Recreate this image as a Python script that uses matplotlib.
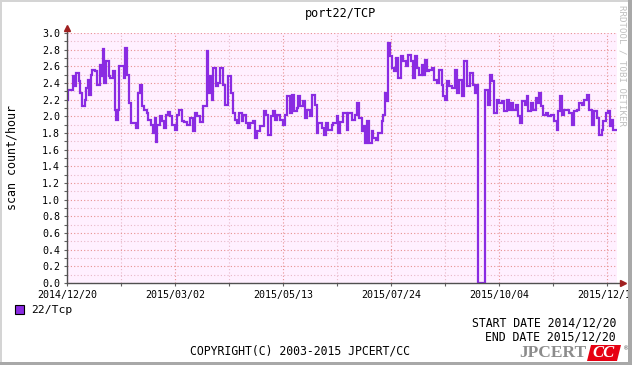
import matplotlib
matplotlib.use('Agg')
import matplotlib.pyplot as plt
from matplotlib.patches import Rectangle, Polygon
import numpy as np

# data: step start (days since 2014/12/20) and scan count/hour
days = [0, 1, 4, 5, 6, 8, 9, 10, 12, 13, 14, 15, 16, 17, 19, 20, 22, 23, 24, 25,
        26, 28, 29, 31, 32, 33, 34, 35, 38, 39, 40, 41.5, 43, 46, 47.5, 48.5, 50,
        51.3, 53.1, 54.2, 55.8, 57.1, 58.7, 59.3, 60.2, 62, 63.1, 64.7, 66, 67.6,
        68.7, 69.8, 72, 73.1, 74.9, 76.4, 78, 79.8, 82, 83.8, 85.3, 86.9, 88.7, 91,
        93.1, 94.2, 95.3, 96.6, 97.6, 99.3, 100.9, 102, 103.8, 105.3, 107.6, 109.1,
        110.4, 112, 113.6, 114.9, 116.4, 117.6, 119.3, 120.9, 122, 124.2, 125.3,
        126.9, 128.7, 131.3, 132.7, 134.2, 135.8, 137.1, 138.7, 140.2, 142, 143.8,
        145.3, 146.9, 148.7, 149.8, 151.3, 153.1, 154.2, 155.3, 157.1, 158.9, 160.2,
        162, 163.1, 165.3, 166.4, 167.6, 169.8, 171.3, 172.7, 174.2, 176.4, 177.6,
        179.8, 180.9, 182, 184.2, 186.4, 187.6, 189.8, 192, 193.1, 194.9, 196.4,
        197.6, 198.7, 199.8, 201.6, 203.1, 204.2, 206, 207.6, 209.8, 210.9, 212,
        213.1, 214.2, 215.3, 216.4, 218, 219.3, 220.9, 222.7, 224.2, 226, 227.6,
        229.1, 230.4, 232, 233.1, 234.9, 236.4, 237.6, 238.7, 239.8, 241.6, 243.1,
        244.7, 246.4, 248.2, 249.8, 250.9, 252, 253.1, 254.9, 256.4, 258.7, 259.8,
        261.6, 263.1, 264.7, 266.9, 268.7, 270.4, 272, 273.1, 274.2, 278.7, 280.9,
        282, 283.6, 284.9, 286.4, 288, 289.8, 291.6, 293.1, 294.7, 296, 297.6, 299.1,
        300.4, 302, 303.6, 305.3, 306.7, 307.6, 309.3, 310.9, 312.4, 313.8, 314.7,
        316, 317.6, 319.1, 320.9, 322.7, 324.9, 326.4, 327.6, 328.7, 330.2, 331.6,
        334.7, 336.4, 338.2, 339.8, 341.3, 343.1, 344.9, 346.4, 348, 349.8, 351.6,
        353.1, 354.7, 356.4, 357.6, 359.1, 360.4, 362, 363.1, 364.2]
end_day = 366.4

scans = [2.20, 2.32, 2.48, 2.36, 2.52, 2.42, 2.28, 2.13, 2.20, 2.34, 2.44, 2.26, 2.50,
         2.56, 2.54, 2.38, 2.62, 2.48, 2.81, 2.40, 2.66, 2.48, 2.46, 2.54, 2.08, 1.96,
         2.08, 2.60, 2.46, 2.82, 2.50, 2.16, 1.92, 1.86, 2.28, 2.38, 2.12, 2.08, 2.04,
         1.96, 1.90, 1.80, 1.98, 1.69, 1.90, 2.00, 1.94, 1.86, 2.02, 2.05, 2.00, 1.90,
         1.84, 2.02, 2.08, 1.94, 1.93, 1.90, 1.98, 1.82, 2.04, 2.00, 1.93, 2.12, 2.78,
         2.28, 2.48, 2.20, 2.58, 2.36, 2.40, 2.58, 2.38, 2.14, 2.48, 2.28, 2.04, 1.96,
         1.92, 2.04, 1.94, 2.02, 1.92, 1.86, 1.92, 1.94, 1.74, 1.82, 1.88, 2.06, 2.02,
         1.78, 2.00, 2.06, 1.96, 2.02, 1.96, 1.90, 2.02, 2.24, 2.04, 2.26, 2.06, 2.10,
         2.24, 2.12, 2.18, 1.98, 2.08, 2.00, 2.26, 2.14, 1.80, 1.92, 1.86, 1.78, 1.92,
         1.84, 1.90, 1.92, 2.00, 1.80, 1.93, 2.04, 1.84, 2.04, 1.96, 2.02, 2.16, 1.98,
         1.82, 1.88, 1.68, 1.94, 1.68, 1.82, 1.74, 1.72, 1.80, 1.94, 2.02, 2.28, 2.18,
         2.88, 2.72, 2.58, 2.54, 2.70, 2.46, 2.72, 2.66, 2.60, 2.74, 2.66, 2.46, 2.72,
         2.58, 2.50, 2.62, 2.50, 2.68, 2.54, 2.56, 2.58, 2.44, 2.40, 2.56, 2.38, 2.24,
         2.20, 2.42, 2.36, 2.34, 2.56, 2.28, 2.44, 2.24, 2.66, 2.36, 2.52, 2.38, 2.28,
         2.38, 0.00, 2.32, 2.14, 2.50, 2.42, 2.04, 2.20, 2.16, 2.18, 2.06, 2.20, 2.08,
         2.16, 2.08, 2.14, 2.00, 1.92, 2.18, 2.14, 2.24, 2.06, 2.16, 2.08, 2.22, 2.16,
         2.28, 2.12, 2.02, 2.04, 2.00, 2.02, 1.94, 1.84, 2.06, 2.24, 2.02, 2.08, 2.04,
         1.90, 2.06, 2.08, 2.16, 2.14, 2.20, 2.26, 2.08, 1.90, 2.06, 1.98, 1.78, 1.84,
         1.94, 2.04, 2.06, 1.88, 1.96, 1.84]

tick_days = [0, 72, 144, 216, 288, 360]
tick_labels = ['2014/12/20', '2015/03/02', '2015/05/13', '2015/07/24', '2015/10/04', '2015/12/15']
minor_days = [36, 108, 180, 252, 324]

W, H = 632, 365
plt.rcParams['font.family'] = ['DejaVu Sans Mono']

fig = plt.figure(figsize=(W / 100, H / 100), dpi=100)
fig.patch.set_facecolor('white')

# plot area (pixel positions from the reference)
ax = fig.add_axes([67 / W, 1 - 283 / H, (617 - 67) / W, 250 / H])
ax.set_facecolor('#fff0ff')

line_col = '#8a2be2'
ax.stairs(scans, days + [end_day], baseline=None, color=line_col, lw=1.6, zorder=3)

ax.set_xlim(0, 366.7)
ax.set_ylim(0, 3.0)
ax.set_xticks(tick_days)
ax.set_xticklabels(tick_labels)
ax.set_xticks(minor_days, minor=True)
ax.set_yticks(np.arange(0, 3.01, 0.2))
ax.set_yticklabels(['%.1f' % v for v in np.arange(0, 3.01, 0.2)])
ax.set_yticks(np.arange(0.1, 3.0, 0.2), minor=True)

ax.grid(which='major', color='#e89090', linestyle=(0, (1, 2)), lw=0.8)
ax.grid(which='minor', color='#e8b8c8', linestyle=(0, (1, 2)), lw=0.8)
ax.set_axisbelow(True)

for s in ax.spines.values():
    s.set_visible(False)
ax.tick_params(which='both', length=2, width=0.8, color='#606060',
               labelsize=7.2, pad=3, labelcolor='black')

# axis lines with arrows
ax.plot([0, 0], [0, 1.02], color='#505050', lw=1, transform=ax.transAxes, clip_on=False, zorder=4)
ax.plot([0, 1.01], [0, 0], color='#505050', lw=1, transform=ax.transAxes, clip_on=False, zorder=4)
ax.plot(0, 1.02, marker='^', ms=4, color='#a02020', transform=ax.transAxes, clip_on=False, zorder=5)
ax.plot(1.01, 0, marker='>', ms=4, color='#a02020', transform=ax.transAxes, clip_on=False, zorder=5)

# texts
fig.text(341 / W, 1 - 14 / H, 'port22/TCP', ha='center', va='center', fontsize=8.6)
fig.text(12 / W, 1 - 158 / H, 'scan count/hour', ha='center', va='center',
         rotation=90, fontsize=8.4)
fig.text(622 / W, 1 - 5 / H, 'RRDTOOL / TOBI OETIKER', ha='center', va='top',
         rotation=270, fontsize=6.6, color='#c0c0c0')

# legend
fig.patches.append(Rectangle((15 / W, 1 - 314 / H), 9 / W, 9 / H, transform=fig.transFigure,
                             facecolor=line_col, edgecolor='black', lw=0.8))
fig.text(31 / W, 1 - 310 / H, '22/Tcp', ha='left', va='center', fontsize=8.2)

fig.text(616 / W, 1 - 323 / H, 'START DATE 2014/12/20', ha='right', va='center', fontsize=8.3)
fig.text(616 / W, 1 - 337 / H, 'END DATE 2015/12/20', ha='right', va='center', fontsize=8.3)
fig.text(300 / W, 1 - 351 / H, 'COPYRIGHT(C) 2003-2015 JPCERT/CC', ha='center', va='center',
         fontsize=8.3)

# JPCERT/CC logo
fig.text(553 / W, 1 - 353 / H, 'JPCERT', ha='center', va='center', fontsize=12.5,
         family='Liberation Serif', weight='bold', color='#8c8c8c')
pts = [(591, 345), (621, 345), (617, 361), (587, 361)]
fig.patches.append(Polygon([(px / W, 1 - py / H) for px, py in pts], closed=True,
                           transform=fig.transFigure, facecolor='#e60012', edgecolor='none'))
fig.text(604 / W, 1 - 353 / H, 'CC', ha='center', va='center', fontsize=12,
         family='Liberation Serif', weight='bold', style='italic', color='white')
fig.text(626 / W, 1 - 348 / H, '®', ha='center', va='center', fontsize=5, color='#666666')

# frame
frame = [
    ((0, 0), W, 2, '#d4d4d4'),          # top
    ((0, 0), 2, H, '#d4d4d4'),          # left
    ((W - 4, 0), 4, H, '#a8a8a8'),      # right
    ((0, H - 3), W, 3, '#a8a8a8'),      # bottom
]
for (px, py), w, h, c in frame:
    fig.patches.append(Rectangle((px / W, 1 - (py + h) / H), w / W, h / H,
                                 transform=fig.transFigure, facecolor=c,
                                 edgecolor='none', zorder=10))

fig.savefig('out.png', dpi=100)
